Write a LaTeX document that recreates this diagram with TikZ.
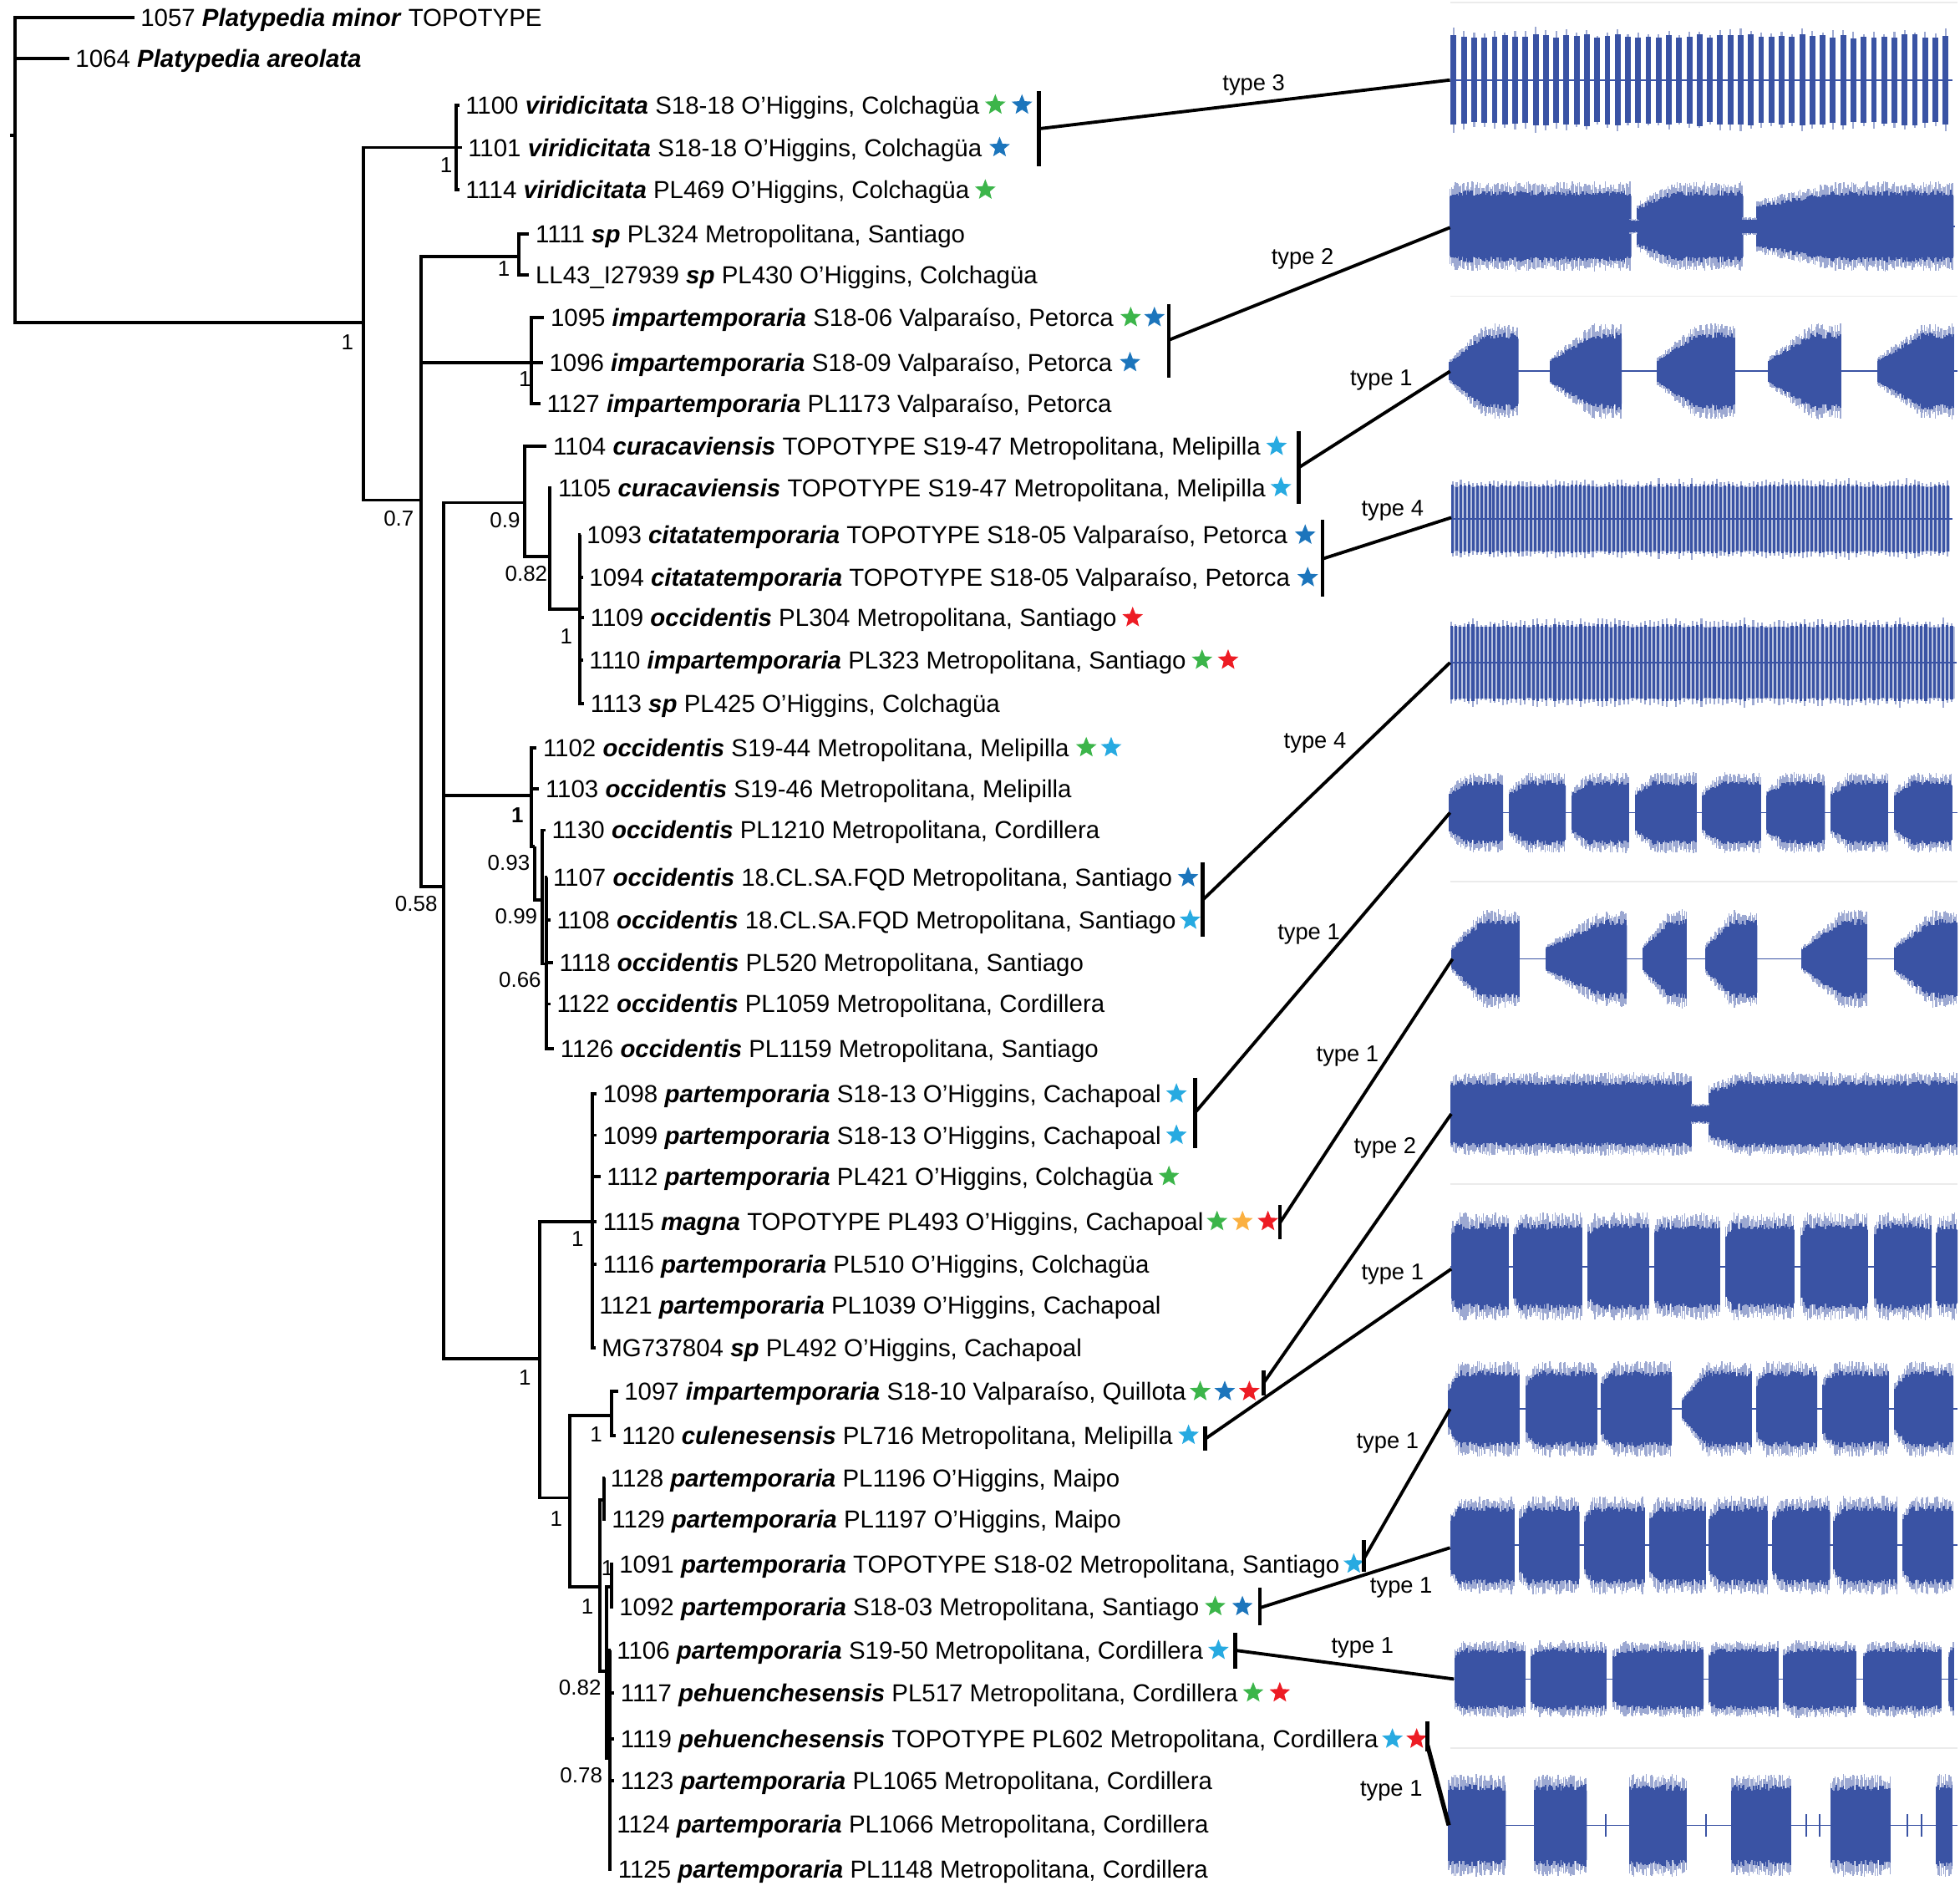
\documentclass[tikz,border=0pt]{standalone}
\usepackage{fontspec}
\setmainfont{Liberation Sans}
\usepackage{tikz}
\usetikzlibrary{positioning,shapes.geometric}
\definecolor{starGreen}{HTML}{3CB54A}
\definecolor{starBlue}{HTML}{1C75BC}
\definecolor{starCyan}{HTML}{27AAE1}
\definecolor{starRed}{HTML}{ED1C24}
\definecolor{starOrange}{HTML}{FBB040}
\definecolor{waveBlue}{HTML}{3A53A4}
\newcommand{\taxon}[1]{\textbf{\textit{#1}}}
\tikzset{
  lf/.style={anchor=west, inner sep=0pt, text height=7.5pt, text depth=1.5pt, font=\fontsize{8.4}{10}\selectfont},
  bs/.style={inner sep=0pt, font=\fontsize{7.4}{9}\selectfont},
  typ/.style={inner sep=0pt, font=\fontsize{7.8}{9}\selectfont},
  spk/.style={star, star points=5, star point ratio=2.3, fill=#1, inner sep=0pt, minimum size=0.26cm},
  br/.style={line width=1.1pt},
  brk/.style={line width=1.3pt},
  lnk/.style={line width=1.1pt},
  sep/.style={black!8, line width=0.5pt},
  wline/.style={waveBlue, line width=0.5pt},
  wave/.style={fill=waveBlue},
  core/.style={waveBlue, line width=0.5pt},
  fringe/.style={waveBlue!50, line width=0.4pt},
  band/.style={fill=waveBlue!35},
}
% burst: x0, x1, centre, amplitude, start level, rise fraction
\newcommand{\burst}[6]{%
  \pgfmathsetmacro{\bL}{#2-#1}%
  \pgfmathsetmacro{\bX}{#1+#6*\bL}%
  \pgfmathtruncatemacro{\bN}{\bL/1.1}%
  \foreach \i in {0,...,\bN}{%
    \pgfmathsetmacro{\xx}{#1+\i*1.1}%
    \pgfmathsetmacro{\ee}{#4*min(1,#5+(1-#5)*\i*1.1/(#6*\bL))}%
    \pgfmathsetmacro{\hh}{\ee*(1.02+0.22*rnd)}%
    \pgfmathsetmacro{\hd}{\ee*(0.84+0.16*rnd)}%
    \draw[fringe] (\xx,{#3-\hh}) -- (\xx,{#3+\hh});
    \draw[core] (\xx,{#3-\hd}) -- (\xx,{#3+\hd});
  }%
  \fill[wave] (#1,{#3-0.84*#5*#4}) -- (\bX,{#3-0.84*#4}) -- (#2,{#3-0.84*#4}) -- (#2,{#3+0.84*#4})
    -- (\bX,{#3+0.84*#4}) -- (#1,{#3+0.84*#5*#4}) -- cycle;
}
% pulse train: x0, x1, centre, amplitude, period, width
\newcommand{\pulses}[6]{%
  \pgfmathtruncatemacro{\pN}{(#2-#1)/#5}%
  \foreach \i in {0,...,\pN}{%
    \pgfmathsetmacro{\xx}{#1+\i*#5}%
    \pgfmathsetmacro{\hh}{#4*(0.93+0.1*rnd)}%
    \pgfmathsetmacro{\hf}{\hh*(1.04+0.14*rnd)}%
    \draw[fringe, line width=0.6pt] ({\xx+#6/2},{#3-\hf}) -- ({\xx+#6/2},{#3+\hf});
    \fill[wave] (\xx,{#3-\hh}) rectangle ({\xx+#6},{#3+\hh});
  }%
}

\begin{document}
\begin{tikzpicture}[x=0.015cm, y=-0.015cm]
  \useasboundingbox (0,0) rectangle (1568,1516);
  \pgfmathsetseed{11}

  % taxa
  \node[lf] (l1057) at (112,14) {1057 \taxon{Platypedia minor} TOPOTYPE};
  \node[lf] (l1064) at (60,47) {1064 \taxon{Platypedia areolata}};
  \node[lf] (l1100) at (372,84) {1100 \taxon{viridicitata} S18-18 O'Higgins, Colchagüa};
  \node[lf] (l1101) at (374,118) {1101 \taxon{viridicitata} S18-18 O'Higgins, Colchagüa};
  \node[lf] (l1114) at (372,152) {1114 \taxon{viridicitata} PL469 O'Higgins, Colchagüa};
  \node[lf] (l1111) at (428,187) {1111 \taxon{sp} PL324 Metropolitana, Santiago};
  \node[lf] (lLL43) at (428,220) {LL43\_I27939 \taxon{sp} PL430 O'Higgins, Colchagüa};
  \node[lf] (l1095) at (440,254) {1095 \taxon{impartemporaria} S18-06 Valparaíso, Petorca};
  \node[lf] (l1096) at (439,290) {1096 \taxon{impartemporaria} S18-09 Valparaíso, Petorca};
  \node[lf] (l1127) at (437,323) {1127 \taxon{impartemporaria} PL1173 Valparaíso, Petorca};
  \node[lf] (l1104) at (442,357) {1104 \taxon{curacaviensis} TOPOTYPE S19-47 Metropolitana, Melipilla};
  \node[lf] (l1105) at (446,390) {1105 \taxon{curacaviensis} TOPOTYPE S19-47 Metropolitana, Melipilla};
  \node[lf] (l1093) at (469,428) {1093 \taxon{citatatemporaria} TOPOTYPE S18-05 Valparaíso, Petorca};
  \node[lf] (l1094) at (471,462) {1094 \taxon{citatatemporaria} TOPOTYPE S18-05 Valparaíso, Petorca};
  \node[lf] (l1109) at (472,494) {1109 \taxon{occidentis} PL304 Metropolitana, Santiago};
  \node[lf] (l1110) at (471,528) {1110 \taxon{impartemporaria} PL323 Metropolitana, Santiago};
  \node[lf] (l1113) at (472,563) {1113 \taxon{sp} PL425 O'Higgins, Colchagüa};
  \node[lf] (l1102) at (434,598) {1102 \taxon{occidentis} S19-44 Metropolitana, Melipilla};
  \node[lf] (l1103) at (436,631) {1103 \taxon{occidentis} S19-46 Metropolitana, Melipilla};
  \node[lf] (l1130) at (441,664) {1130 \taxon{occidentis} PL1210 Metropolitana, Cordillera};
  \node[lf] (l1107) at (442,702) {1107 \taxon{occidentis} 18.CL.SA.FQD Metropolitana, Santiago};
  \node[lf] (l1108) at (445,736) {1108 \taxon{occidentis} 18.CL.SA.FQD Metropolitana, Santiago};
  \node[lf] (l1118) at (447,770) {1118 \taxon{occidentis} PL520 Metropolitana, Santiago};
  \node[lf] (l1122) at (445,803) {1122 \taxon{occidentis} PL1059 Metropolitana, Cordillera};
  \node[lf] (l1126) at (448,839) {1126 \taxon{occidentis} PL1159 Metropolitana, Santiago};
  \node[lf] (l1098) at (482,875) {1098 \taxon{partemporaria} S18-13 O'Higgins, Cachapoal};
  \node[lf] (l1099) at (482,908) {1099 \taxon{partemporaria} S18-13 O'Higgins, Cachapoal};
  \node[lf] (l1112) at (485,941) {1112 \taxon{partemporaria} PL421 O'Higgins, Colchagüa};
  \node[lf] (l1115) at (482,977) {1115 \taxon{magna} TOPOTYPE PL493 O'Higgins, Cachapoal};
  \node[lf] (l1116) at (482,1011) {1116 \taxon{partemporaria} PL510 O'Higgins, Colchagüa};
  \node[lf] (l1121) at (479,1044) {1121 \taxon{partemporaria} PL1039 O'Higgins, Cachapoal};
  \node[lf] (lMG) at (481,1078) {MG737804 \taxon{sp} PL492 O'Higgins, Cachapoal};
  \node[lf] (l1097) at (499,1113) {1097 \taxon{impartemporaria} S18-10 Valparaíso, Quillota};
  \node[lf] (l1120) at (497,1148) {1120 \taxon{culenesensis} PL716 Metropolitana, Melipilla};
  \node[lf] (l1128) at (488,1182) {1128 \taxon{partemporaria} PL1196 O'Higgins, Maipo};
  \node[lf] (l1129) at (489,1215) {1129 \taxon{partemporaria} PL1197 O'Higgins, Maipo};
  \node[lf] (l1091) at (495,1251) {1091 \taxon{partemporaria} TOPOTYPE S18-02 Metropolitana, Santiago};
  \node[lf] (l1092) at (495,1285) {1092 \taxon{partemporaria} S18-03 Metropolitana, Santiago};
  \node[lf] (l1106) at (493,1320) {1106 \taxon{partemporaria} S19-50 Metropolitana, Cordillera};
  \node[lf] (l1117) at (496,1354) {1117 \taxon{pehuenchesensis} PL517 Metropolitana, Cordillera};
  \node[lf] (l1119) at (496,1391) {1119 \taxon{pehuenchesensis} TOPOTYPE PL602 Metropolitana, Cordillera};
  \node[lf] (l1123) at (496,1424) {1123 \taxon{partemporaria} PL1065 Metropolitana, Cordillera};
  \node[lf] (l1124) at (493,1459) {1124 \taxon{partemporaria} PL1066 Metropolitana, Cordillera};
  \node[lf] (l1125) at (494,1495) {1125 \taxon{partemporaria} PL1148 Metropolitana, Cordillera};

  % stars
  \node[spk=starGreen, right=2.8pt of l1100] (s1100a) {};
  \node[spk=starBlue, right=4.2pt of s1100a] (s1100b) {};
  \node[spk=starBlue, right=3.4pt of l1101] (s1101a) {};
  \node[spk=starGreen, right=2.8pt of l1114] (s1114a) {};
  \node[spk=starGreen, right=3.2pt of l1095] (s1095a) {};
  \node[spk=starBlue, right=3.2pt of s1095a] (s1095b) {};
  \node[spk=starBlue, right=3.4pt of l1096] (s1096a) {};
  \node[spk=starCyan, right=2.8pt of l1104] (s1104a) {};
  \node[spk=starCyan, right=2.6pt of l1105] (s1105a) {};
  \node[spk=starBlue, right=3.4pt of l1093] (s1093a) {};
  \node[spk=starBlue, right=3.4pt of l1094] (s1094a) {};
  \node[spk=starRed, right=2.8pt of l1109] (s1109a) {};
  \node[spk=starGreen, right=2.8pt of l1110] (s1110a) {};
  \node[spk=starRed, right=4.0pt of s1110a] (s1110b) {};
  \node[spk=starGreen, right=3.2pt of l1102] (s1102a) {};
  \node[spk=starCyan, right=3.6pt of s1102a] (s1102b) {};
  \node[spk=starBlue, right=2.8pt of l1107] (s1107a) {};
  \node[spk=starCyan, right=2.2pt of l1108] (s1108a) {};
  \node[spk=starCyan, right=2.6pt of l1098] (s1098a) {};
  \node[spk=starCyan, right=2.6pt of l1099] (s1099a) {};
  \node[spk=starGreen, right=2.8pt of l1112] (s1112a) {};
  \node[spk=starGreen, right=2.0pt of l1115] (s1115a) {};
  \node[spk=starOrange, right=3.8pt of s1115a] (s1115b) {};
  \node[spk=starRed, right=3.8pt of s1115b] (s1115c) {};
  \node[spk=starGreen, right=2.2pt of l1097] (s1097a) {};
  \node[spk=starBlue, right=3.5pt of s1097a] (s1097b) {};
  \node[spk=starRed, right=3.5pt of s1097b] (s1097c) {};
  \node[spk=starCyan, right=2.8pt of l1120] (s1120a) {};
  \node[spk=starCyan, right=2.2pt of l1091] (s1091a) {};
  \node[spk=starGreen, right=2.8pt of l1092] (s1092a) {};
  \node[spk=starBlue, right=4.4pt of s1092a] (s1092b) {};
  \node[spk=starCyan, right=2.6pt of l1106] (s1106a) {};
  \node[spk=starGreen, right=2.6pt of l1117] (s1117a) {};
  \node[spk=starRed, right=4.2pt of s1117a] (s1117b) {};
  \node[spk=starCyan, right=2.2pt of l1119] (s1119a) {};
  \node[spk=starRed, right=3.4pt of s1119a] (s1119b) {};

  % tree
  \coordinate (n0) at (12,108);
  \coordinate (nA) at (291,258);
  \coordinate (nV) at (365,118);
  \coordinate (nB) at (337,400);
  \coordinate (nS) at (415,205);
  \coordinate (nI) at (425,290);
  \coordinate (nC) at (355,709);
  \coordinate (nK) at (420,402);
  \coordinate (nK2) at (440,445);
  \coordinate (nT) at (464,487);
  \coordinate (nO1) at (425,636);
  \coordinate (nO2) at (428,677);
  \coordinate (nO3) at (434,720);
  \coordinate (nO4) at (437,771);
  \coordinate (nP) at (432,1087);
  \coordinate (nP1) at (474,977);
  \coordinate (nQ) at (456,1198);
  \coordinate (nQ1) at (489,1132);
  \coordinate (nR) at (480,1269);
  \coordinate (nR1) at (483,1200);
  \coordinate (nR2) at (489,1269);
  \coordinate (nR3) at (485,1337);
  \coordinate (nR4) at (488,1406);
  \draw[br] (8,108) -- (n0);
  \foreach \p/\c in {n0/nA, nA/nV, nA/nB, nB/nS, nB/nI, nB/nC, nC/nK, nC/nO1, nC/nP,
      nK/nK2, nK2/nT, nO1/nO2, nO2/nO3, nO3/nO4, nP/nP1, nP/nQ, nQ/nQ1, nQ/nR,
      nR/nR1, nR/nR3, nR3/nR2, nR3/nR4}
    \draw[br] (\p) |- (\c);
  \foreach \p/\c in {n0/l1057, n0/l1064, nV/l1100, nV/l1101, nV/l1114, nS/l1111, nS/lLL43,
      nI/l1095, nI/l1096, nI/l1127, nK/l1104, nK2/l1105, nT/l1093, nT/l1094, nT/l1109,
      nT/l1110, nT/l1113, nO1/l1102, nO1/l1103, nO3/l1130, nO4/l1107, nO4/l1108,
      nO4/l1118, nO4/l1122, nO4/l1126, nP1/l1098, nP1/l1099, nP1/l1112, nP1/l1115,
      nP1/l1116, nP1/l1121, nP1/lMG, nQ1/l1097, nQ1/l1120, nR1/l1128, nR1/l1129,
      nR2/l1091, nR2/l1092, nR4/l1106, nR4/l1117, nR4/l1119, nR4/l1123, nR4/l1124,
      nR4/l1125}
    \draw[br] (\p) |- ([xshift=-2pt]\c.west);

  % support values
  \node[bs] (p1) at (278,274) {1};
  \node[bs] (p2) at (357,132) {1};
  \node[bs] (p3) at (319,415) {0.7};
  \node[bs] (p4) at (403,215) {1};
  \node[bs] (p5) at (420,303) {1};
  \node[bs] (p6) at (333,723) {0.58};
  \node[bs] (p7) at (404,416) {0.9};
  \node[bs] (p8) at (421,459) {0.82};
  \node[bs] (p9) at (453,509) {1};
  \node[bs] (p10) at (414,652) {\textbf{1}};
  \node[bs] (p11) at (407,690) {0.93};
  \node[bs] (p12) at (413,733) {0.99};
  \node[bs] (p13) at (416,784) {0.66};
  \node[bs] (p14) at (462,991) {1};
  \node[bs] (p15) at (420,1102) {1};
  \node[bs] (p16) at (477,1147) {1};
  \node[bs] (p17) at (445,1215) {1};
  \node[bs] (p18) at (486,1254) {1};
  \node[bs] (p19) at (470,1285) {1};
  \node[bs] (p20) at (464,1350) {0.82};
  \node[bs] (p21) at (465,1420) {0.78};

  % oscillograms
  \foreach \yy in {2,237,705,947,1398}
    \draw[sep] (1160,\yy) -- (1566,\yy);
  \draw[wline] (1160,64) -- (1562,64);
  \pulses{1160.6}{1556}{64}{36}{8.2}{4.6}
  \draw[wline] (1160,181) -- (1564,181);
  \foreach \xa/\xb/\sa/\ra in {1160/1305/0.95/0.05, 1310/1394.7/0.55/0.35, 1405.7/1562.8/0.6/0.4}
    {\burst{\xa}{\xb}{181}{29}{\sa}{\ra}}
  \burst{1304}{1311}{181}{5}{1}{0.5}
  \burst{1394}{1406}{181}{6}{1}{0.5}
  \draw[wline] (1160,297) -- (1566,297);
  \foreach \xa/\xb/\sa/\ra in {1159.8/1214.8/0.25/0.5, 1240.4/1297.4/0.3/0.6, 1325.9/1387.6/0.3/0.5,
      1415.1/1472.4/0.3/0.6, 1502.1/1563/0.3/0.6}
    {\burst{\xa}{\xb}{297}{31}{\sa}{\ra}}
  \fill[band] (1161,389) rectangle (1560,441);
  \draw[wline] (1161,415) -- (1562,415);
  \pulses{1161}{1558}{415}{27}{3.3}{2.0}
  \fill[band] (1160,501) rectangle (1564,559);
  \draw[wline] (1160,530) -- (1565,530);
  \pulses{1160}{1562}{530}{30}{3.45}{2.1}
  \draw[wline] (1160,650) -- (1566,650);
  \foreach \xa/\xb in {1159.8/1202.5, 1207.5/1252.6, 1257.6/1303, 1308.5/1357.3,
      1362.2/1408.5, 1413.2/1460, 1465/1510.4, 1515.9/1561.9}
    {\burst{\xa}{\xb}{650}{26}{0.6}{0.3}}
  \draw[wline] (1160,767) -- (1566,767);
  \foreach \xa/\xb/\sa/\ra in {1161.2/1215.4/0.25/0.45, 1236.9/1301.6/0.3/0.7, 1314.9/1349.3/0.3/0.6,
      1364.4/1405.8/0.3/0.5, 1441.5/1493.3/0.25/0.6, 1515.6/1566/0.3/0.6}
    {\burst{\xa}{\xb}{767}{32}{\sa}{\ra}}
  \draw[wline] (1160,891) -- (1566,891);
  \foreach \xa/\xb/\sa/\ra in {1160.6/1353.4/0.95/0.05, 1367.2/1566/0.7/0.12}
    {\burst{\xa}{\xb}{891}{27}{\sa}{\ra}}
  \burst{1353}{1368}{891}{7}{1}{0.5}
  \draw[wline] (1160,1013) -- (1566,1013);
  \foreach \xa/\xb in {1161.2/1206.6, 1211.3/1265.3, 1270.5/1319, 1323.7/1375.5,
      1380.7/1435.5, 1440.7/1494.4, 1499.4/1545.4, 1549.5/1566}
    {\burst{\xa}{\xb}{1013}{35}{0.8}{0.1}}
  \draw[wline] (1160,1127) -- (1566,1127);
  \foreach \xa/\xb/\sa/\ra in {1159/1215.7/0.55/0.15, 1221/1277.4/0.7/0.15, 1281.5/1337.4/0.7/0.15,
      1345.7/1401.3/0.25/0.35, 1405.5/1453.7/0.7/0.15, 1458.6/1510.4/0.7/0.2, 1515.9/1562.7/0.6/0.25}
    {\burst{\xa}{\xb}{1127}{31}{\sa}{\ra}}
  \draw[wline] (1160,1236) -- (1566,1236);
  \foreach \xa/\xb in {1160.6/1211.3, 1215.4/1263.6, 1267.8/1316, 1320.1/1364.2,
      1367.7/1414, 1417.9/1464.1, 1466.9/1517.8, 1522.5/1562.7}
    {\burst{\xa}{\xb}{1236}{32}{0.7}{0.15}}
  \draw[wline] (1163,1343) -- (1566,1343);
  \foreach \xa/\xb in {1163.9/1220.4, 1225.1/1285.1, 1290.6/1362.8, 1367.2/1422.8,
      1427/1484.8, 1491.1/1552.8, 1559.2/1563.3}
    {\burst{\xa}{\xb}{1343}{25}{0.8}{0.1}}
  \draw[wline] (1159,1460) -- (1566,1460);
  \foreach \xa/\xb in {1159/1204.7, 1227.8/1269.4, 1303.8/1349, 1385.1/1432.5,
      1464.9/1512.3, 1549.5/1561.9}
    {\burst{\xa}{\xb}{1460}{33}{0.95}{0.05}}
  \foreach \xa in {1284.3, 1365, 1444.9, 1455.9, 1526.1, 1537.1}
    \fill[wave] ({\xa-0.7},1451) rectangle ({\xa+0.7},1469);

  % call types
  \coordinate (w1) at (1160,64);
  \coordinate (w2) at (1160,182);
  \coordinate (w3) at (1160,297);
  \coordinate (w4) at (1161,414);
  \coordinate (w5) at (1160,530);
  \coordinate (w6) at (1160,650);
  \coordinate (w7) at (1162,767);
  \coordinate (w8) at (1161,891);
  \coordinate (w9) at (1161,1015);
  \coordinate (w10) at (1160,1127);
  \coordinate (w11) at (1160,1238);
  \coordinate (w12) at (1163,1343);
  \coordinate (w13) at (1159,1460);
  \coordinate (k1) at (831,103);
  \coordinate (k2) at (935,272);
  \coordinate (k3) at (1039,374);
  \coordinate (k4) at (1058,447);
  \coordinate (k5) at (962,720);
  \coordinate (k6) at (956,890);
  \coordinate (k7) at (1024,978);
  \coordinate (k8) at (1011,1106);
  \coordinate (k9) at (964,1151);
  \coordinate (k10) at (1091,1247);
  \coordinate (k11) at (1008,1286);
  \coordinate (k12) at (988,1320);
  \coordinate (k13) at (1142,1396);
  \draw[brk] (831,73) -- (831,133);
  \draw[brk] (935,243) -- (935,302);
  \draw[brk] (1039,345) -- (1039,403);
  \draw[brk] (1058,416) -- (1058,477);
  \draw[brk] (962,690) -- (962,749);
  \draw[brk] (956,862) -- (956,918);
  \draw[brk] (1024,964) -- (1024,991);
  \draw[brk] (1011,1096) -- (1011,1116);
  \draw[brk] (964,1141) -- (964,1160);
  \draw[brk] (1091,1232) -- (1091,1257);
  \draw[brk] (1008,1270) -- (1008,1300);
  \draw[brk] (988,1306) -- (988,1335);
  \draw[brk, line width=1.6pt] (1142,1377) -- (1142,1401);
  \foreach \i in {1,...,12}
    \draw[lnk] (k\i) -- (w\i);
  \draw[lnk, line width=1.5pt] (k13) -- (w13);
  \node[typ] (t1) at (1003,68) {type 3};
  \node[typ] (t2) at (1042,207) {type 2};
  \node[typ] (t3) at (1105,304) {type 1};
  \node[typ] (t4) at (1114,408) {type 4};
  \node[typ] (t5) at (1052,594) {type 4};
  \node[typ] (t6) at (1047,747) {type 1};
  \node[typ] (t7) at (1078,845) {type 1};
  \node[typ] (t8) at (1108,918) {type 2};
  \node[typ] (t9) at (1114,1019) {type 1};
  \node[typ] (t10) at (1110,1154) {type 1};
  \node[typ] (t11) at (1121,1270) {type 1};
  \node[typ] (t12) at (1090,1318) {type 1};
  \node[typ] (t13) at (1113,1432) {type 1};
\end{tikzpicture}
\end{document}
